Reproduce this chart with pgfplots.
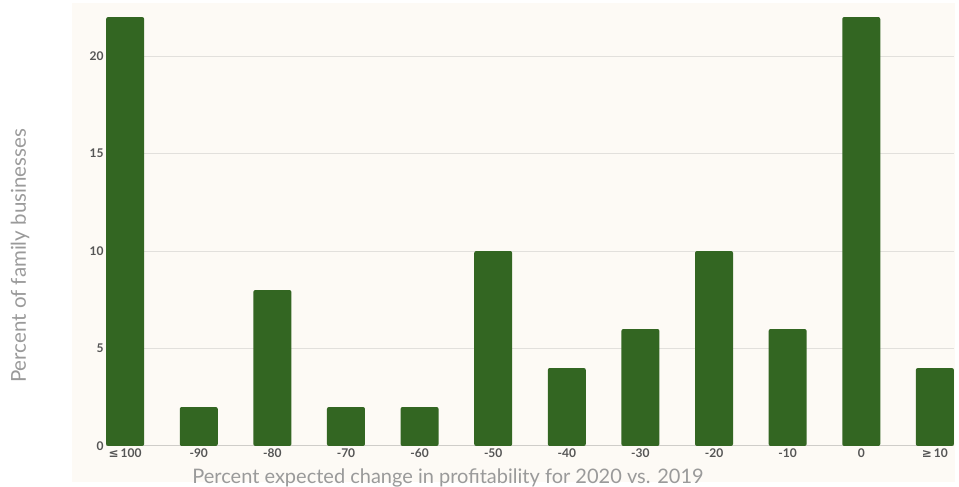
\documentclass[border=0pt]{standalone}
\usepackage{pgfplots}
\pgfplotsset{compat=1.18}
\usepackage{fontspec}
\setmainfont{Lato}
\newfontfamily\symfont{DejaVu Sans}
\definecolor{bargreen}{HTML}{336622}
\definecolor{bgcol}{HTML}{FDFAF5}
\definecolor{gridcol}{HTML}{E2E0DC}
\definecolor{basecol}{HTML}{CFCDC9}
\definecolor{tickcol}{HTML}{555555}
\definecolor{labcol}{HTML}{9A9A9A}
\begin{document}
\begin{tikzpicture}[x=1pt,y=1pt]
\useasboundingbox (0,0) rectangle (959,487);
\fill[bgcol] (72,5) rectangle (955,484);
\node[rotate=90, text=labcol, font=\fontsize{20.5}{24}\selectfont] at (20,231) {Percent of family businesses};
\node[text=labcol, font=\fontsize{20}{24}\selectfont] at (448,9) {Percent expected change in profitability for 2020 vs. 2019};
\begin{axis}[
  at={(106pt,41pt)}, anchor=south west,
  scale only axis, width=848pt, height=443pt,
  xmin=-0.26, xmax=11.26, ymin=0, ymax=22.72,
  axis line style={draw=none},
  ytick={0,5,10,15,20},
  xtick={0,...,11},
  xticklabels={{\symfont\fontsize{12}{14}\selectfont≤}\,100,-90,-80,-70,-60,-50,-40,-30,-20,-10,0,{\symfont\fontsize{12}{14}\selectfont≥}\,10},
  major tick length=0pt,
  tick label style={text=tickcol, font=\fontsize{12}{14}\selectfont\bfseries},
  /pgf/number format/assume math mode=true,
  yticklabel style={xshift=1pt},
  xticklabel style={yshift=1pt},
  ymajorgrids, grid style={gridcol, line width=1pt},
  clip=false,
]
\draw[basecol, line width=1pt] (axis cs:-0.26,0) -- (axis cs:11.26,0);
\addplot[ybar, bar width=38pt, fill=bargreen, draw=none, rounded corners=2pt] coordinates {
(0,22) (1,2) (2,8) (3,2) (4,2) (5,10) (6,4) (7,6) (8,10) (9,6) (10,22) (11,4)
};
\end{axis}
\end{tikzpicture}
\end{document}
